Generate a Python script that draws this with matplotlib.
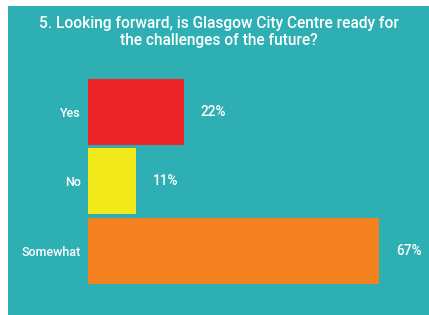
import matplotlib
matplotlib.use('Agg')
import matplotlib.pyplot as plt
from matplotlib.patches import Rectangle

# survey answers
categories = ['Yes', 'No', 'Somewhat']
percentages = [22, 11, 67]
bar_colors = ['#ED2427', '#F2EA1B', '#F48120']
title = '5. Looking forward, is Glasgow City Centre ready for\nthe challenges of the future?'

teal = '#2DAFB4'
plt.rcParams['font.family'] = ['Roboto', 'DejaVu Sans']
plt.rcParams['font.weight'] = 'medium'

W, H = 429, 315
fig = plt.figure(figsize=(W / 100, H / 100), dpi=100, facecolor='white')

# teal panel (white strip on top and left)
fig.patches.append(Rectangle((8 / W, 0), 1 - 8 / W, 1 - 6 / H, transform=fig.transFigure,
                             facecolor=teal, edgecolor='none', zorder=-1))

fig.text(218.5 / W, 1 - 16 / H, title, ha='center', va='top', color='white',
         fontsize=11.2, linespacing=1.15)

ax = fig.add_axes([88 / W, 0.0929, 312 / W, 0.6619])
ax.set_facecolor('none')
y = range(len(categories))
bars = ax.barh(y, percentages, height=0.95, color=bar_colors)
ax.set_xlim(0, 312 / 4.35)
ax.set_ylim(2.5, -0.5)

ax.set_yticks(list(y))
ax.set_yticklabels(categories, color='white', fontsize=9)
ax.tick_params(axis='y', length=0, pad=5)
ax.set_xticks([])
for s in ax.spines.values():
    s.set_visible(False)

for bar, pct in zip(bars, percentages):
    ax.annotate(f'{pct}%', (bar.get_width(), bar.get_y() + bar.get_height() / 2),
                xytext=(12, 0), textcoords='offset points', ha='left', va='center',
                color='white', fontsize=9.8)

fig.savefig('out.png', dpi=100, facecolor='white')
